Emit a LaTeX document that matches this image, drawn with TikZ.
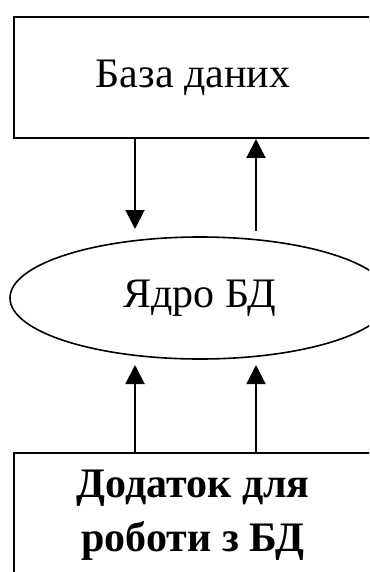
\documentclass[tikz,border=0pt]{standalone}
\usepackage{fontspec}
\setmainfont{Liberation Serif}
\usetikzlibrary{arrows.meta,shapes.geometric}
\begin{document}
\begin{tikzpicture}[x=1pt,y=-1pt,
  box/.style={draw,line width=2pt,rectangle,minimum width=358pt,inner sep=0pt,align=center},
  oval/.style={draw,line width=1.6pt,ellipse,minimum width=380pt,minimum height=122pt,inner sep=0pt},
  arr/.style={line width=2pt,-{Triangle[width=19pt,length=19pt]}},
  lbl/.style={font=\fontsize{42}{54}\selectfont}]
\useasboundingbox (0,0) rectangle (369,572);
\clip (0,0) rectangle (369,572);
\fill[white] (0,0) rectangle (369,572);
\node[box,minimum height=121pt,lbl] (db) at (193,77.5) {База даних};
\node[oval,lbl] (core) at (200,298) {Ядро БД};
\node[box,minimum height=124pt,lbl,font=\fontsize{42}{54}\selectfont\bfseries] (app) at (193,515) {Додаток для\\роботи з БД};
\coordinate (c1) at (135,229);
\coordinate (c2) at (256,231);
\coordinate (c3) at (135,365);
\coordinate (c4) at (256,365);
\draw[arr] (db.south -| c1) -- (c1);
\draw[arr] (c2) -- (db.south -| c2);
\draw[arr] (app.north -| c3) -- (c3);
\draw[arr] (app.north -| c4) -- (c4);
\end{tikzpicture}
\end{document}
